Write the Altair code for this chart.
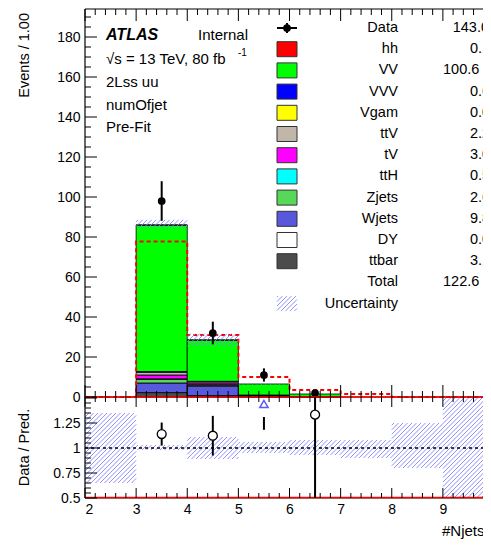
import numpy as np
import pandas as pd
import altair as alt

FONT = "Liberation Sans"

# ---------------- data ----------------
edges = [2, 3, 4, 5, 6, 7, 8, 9, 10]
procs = ["ttbar", "DY", "Wjets", "Zjets", "ttH", "tV", "ttV", "Vgam", "VVV", "VV", "hh"]
proc_colors = ["#4c4c4c", "#ffffff", "#5858dc", "#58d858", "#00ffff", "#ff00ff",
               "#c0b6aa", "#ffff00", "#0000ff", "#00ff00", "#ff0000"]
ttbar = [0, 2.2, 0.7, 0.15, 0.05, 0, 0, 0]
DY    = [0, 0, 0, 0, 0, 0, 0, 0]
Wjets = [0, 4.8, 4.7, 0.3, 0, 0, 0, 0]
Zjets = [0, 1.8, 0.6, 0.15, 0.05, 0, 0, 0]
ttH   = [0, 0.3, 0.15, 0.05, 0, 0, 0, 0]
tV    = [0, 1.9, 0.9, 0.15, 0.05, 0, 0, 0]
ttV   = [0, 1.4, 0.6, 0.15, 0.05, 0, 0, 0]
Vgam  = [0, 0, 0, 0, 0, 0, 0, 0]
VVV   = [0, 0.35, 0.2, 0.05, 0, 0, 0, 0]
VV    = [0, 73.2, 20.6, 5.5, 1.3, 0, 0, 0]
hh    = [0, 0.05, 0.05, 0, 0, 0, 0, 0]
yields = dict(ttbar=ttbar, DY=DY, Wjets=Wjets, Zjets=Zjets, ttH=ttH, tV=tV,
              ttV=ttV, Vgam=Vgam, VVV=VVV, VV=VV, hh=hh)
signal_overlay = [0, 77.7, 31.0, 10.0, 3.5, 1.5, 0, 0]
data_obs = [0, 98, 32, 11, 2, 0, 0, 0]
unc_lo = [0.65, 0.98, 0.89, 0.95, 0.93, 0.90, 0.80, 0.40]
unc_hi = [1.35, 1.03, 1.11, 1.06, 1.08, 1.08, 1.25, 1.60]

legend_names = ["Data", "hh", "VV", "VVV", "Vgam", "ttV", "tV", "ttH", "Zjets",
                "Wjets", "DY", "ttbar", "Total", "Uncertainty"]
legend_values = ["143.0 ± 12.0", "0.1 ± 0.0", "100.6 ± 3.1", "0.6 ± 0.1", "0.0 ± 0.0",
                 "2.2 ± 0.2", "3.0 ± 0.3", "0.5 ± 0.1", "2.6 ± 0.5", "9.8 ± 1.0",
                 "0.0 ± 0.0", "3.1 ± 0.4", "122.6 ± 3.5", ""]
top_ticks = list(range(0, 181, 20))
ratio_ticks = [0.5, 0.75, 1, 1.25]
x_labels = list(range(2, 11))
ann_lines = ["2Lss uu", "numOfjet", "Pre-Fit"]

# ---------------- layout ----------------
SX = 51.125                      # px per x unit
W = 398                          # laid-out plot width; marks run on to x = 10
HT, HB = 388, 101                # top / ratio panel heights (px)
H = HT + HB
LEFT, TOP = 85, 9                # page position of the plot area
XD = (2, 2 + W / SX)
Y1D = (0, 194)
Y2D = (0.5, 1.51)
SY1 = HT / (Y1D[1] - Y1D[0])
SY2 = HB / (Y2D[1] - Y2D[0])
HATCH = "#8585ff"


def ut(v):          # top-panel value -> combined vertical coordinate
    return HB + (v - Y1D[0]) * SY1


def ub(r):          # ratio value -> combined vertical coordinate
    return (r - Y2D[0]) * SY2


def px2x(px):
    return XD[0] + (px - LEFT) / SX


def py2u(py):
    return H - (py - TOP)


def hatch(x0, x1, u0, u1, step=4.5):
    X0, X1 = (x0 - XD[0]) * SX, (x1 - XD[0]) * SX
    segs = []
    for k in range(int(np.ceil((u0 - X1) / step)), int(np.floor((u1 - X0) / step)) + 1):
        c = k * step
        xa, xb = max(X0, u0 - c), min(X1, u1 - c)
        if xb - xa > 0.3:
            segs.append(dict(x=XD[0] + xa / SX, x2=XD[0] + xb / SX, y=xa + c, y2=xb + c))
    return segs


xs = alt.Scale(domain=list(XD), nice=False, zero=False)
ys = alt.Scale(domain=[0, H], nice=False, zero=False)
color_scale = alt.Scale(domain=procs, range=proc_colors)

yvals = [ut(v) for v in top_ticks] + [ub(r) for r in ratio_ticks]
yaxis = alt.Axis(values=yvals, ticks=False, domain=False, grid=False, labelFontSize=14,
                 labelPadding=5, title="",
                 labelExpr=(f"datum.value >= {HB} ? '' + round((datum.value - {HB}) / {SY1}) "
                            f": '' + ({Y2D[0]} + datum.value / {SY2})"))
xaxis = alt.Axis(values=[v for v in x_labels if v <= XD[1]], ticks=False, domain=False,
                 grid=False, labelFontSize=14, labelPadding=4, title="#Njets",
                 titleFontSize=15, titleAnchor="end", titleAlign="right",
                 titleBaseline="middle", titleX=W + 1, titleY=32)


def X(f):
    return alt.X(f, type="quantitative", scale=xs, axis=xaxis)


def Y(f):
    return alt.Y(f, type="quantitative", scale=ys, axis=yaxis)


def rules(df, **kw):
    return alt.Chart(pd.DataFrame(df)).mark_rule(**kw).encode(
        x=X("x"), x2="x2", y=Y("y"), y2="y2")


# ---------------- top panel ----------------
cum = np.zeros(len(edges) - 1)
rows = []
for p in procs:
    v = np.array(yields[p], dtype=float)
    for i in range(len(v)):
        if v[i] > 0:
            rows.append(dict(proc=p, lo=edges[i], hi=edges[i + 1],
                             y0=ut(cum[i]), y1=ut(cum[i] + v[i])))
    cum = cum + v
total = cum

stack = alt.Chart(pd.DataFrame(rows)).mark_rect(stroke="black", strokeWidth=0.8).encode(
    x=X("lo"), x2="hi", y=Y("y0"), y2="y1",
    fill=alt.Fill("proc:N", scale=color_scale, legend=None))

df_sig = pd.DataFrame(dict(x=edges, y=[ut(s) for s in signal_overlay + [signal_overlay[-1]]]))
sig = alt.Chart(df_sig).mark_line(interpolate="step-after", color="#ff0000",
                                  strokeDash=[4, 3], strokeWidth=2).encode(
    x=X("x"), y=Y("y"))

hsegs = []
for i in range(len(total)):
    if total[i] > 0:
        hsegs += hatch(edges[i], edges[i + 1], ut(total[i] * unc_lo[i]), ut(total[i] * unc_hi[i]))
hatch1 = rules(hsegs, color=HATCH, strokeWidth=0.9)

drows = []
for i, n in enumerate(data_obs):
    if n > 0:
        c = 0.5 * (edges[i] + edges[i + 1])
        drows.append(dict(x=c, y=ut(n), lo=ut(max(n - np.sqrt(n), 0)), hi=ut(n + np.sqrt(n))))
df_data = pd.DataFrame(drows)
derr = alt.Chart(df_data).mark_rule(color="black", strokeWidth=2).encode(
    x=X("x"), y=Y("lo"), y2="hi")
dpts = alt.Chart(df_data).mark_circle(color="black", size=60, opacity=1).encode(
    x=X("x"), y=Y("y"))

# ---------------- ratio panel ----------------
hsegs2 = []
for i in range(len(edges) - 1):
    hsegs2 += hatch(edges[i], edges[i + 1], max(ub(unc_lo[i]), 0), min(ub(unc_hi[i]), HB))
hatch2 = rules(hsegs2, color=HATCH, strokeWidth=0.9)

one = rules([dict(x=edges[0], x2=edges[-1], y=ub(1.0), y2=ub(1.0))], color="black",
            strokeWidth=1.5, strokeDash=[3, 3])
frame = rules([dict(x=edges[0], x2=edges[-1], y=HB, y2=HB),
               dict(x=edges[0], x2=edges[-1], y=H, y2=H),
               dict(x=edges[0], x2=edges[-1], y=0, y2=0),
               dict(x=edges[0], x2=edges[0], y=0, y2=H)], color="black", strokeWidth=1.2)
reds = rules([dict(x=edges[0], x2=edges[-1], y=ut(0), y2=ut(0)),
              dict(x=edges[0], x2=edges[-1], y=ub(Y2D[0]) + 0.6, y2=ub(Y2D[0]) + 0.6)],
             color="#ff0000", strokeWidth=1.5)

rrows, arows = [], []
for i, n in enumerate(data_obs):
    if n > 0 and total[i] > 0:
        c = 0.5 * (edges[i] + edges[i + 1])
        r, e = n / total[i], np.sqrt(n) / total[i]
        if r < Y2D[1]:
            rrows.append(dict(x=c, r=ub(r), lo=max(ub(r - e), 0), hi=min(ub(r + e), HB)))
        else:
            arows.append(dict(x=c, ya=ub(Y2D[1] - 0.07), lo=ub(r - e), hi=ub(Y2D[1] - 0.2)))
df_r = pd.DataFrame(rrows)
df_a = pd.DataFrame(arows)
rerr = alt.Chart(df_r).mark_rule(color="black", strokeWidth=2).encode(
    x=X("x"), y=Y("lo"), y2="hi")
rpts = alt.Chart(df_r).mark_point(shape="circle", filled=True, fill="white", stroke="black",
                                  strokeWidth=1.3, size=80, opacity=1).encode(
    x=X("x"), y=Y("r"))
aerr = alt.Chart(df_a).mark_rule(color="black", strokeWidth=2).encode(
    x=X("x"), y=Y("lo"), y2="hi")
apts = alt.Chart(df_a).mark_point(shape="triangle-up", filled=True, fill="white",
                                  stroke="#5a5aff", strokeWidth=1.5, size=70, opacity=1).encode(
    x=X("x"), y=Y("ya"))

# x labels lying past the laid-out width (the "10" at the page edge)
df_xl = pd.DataFrame([dict(t=str(v), x=v, y=-4) for v in x_labels if v > XD[1]])
xl_extra = alt.Chart(df_xl).mark_text(align="center", baseline="top", fontSize=14, font=FONT,
                                      color="black").encode(x=X("x"), y=Y("y"), text="t:N")

# ---------------- tick marks (inside the frames) ----------------
tk = []
for v in np.arange(Y1D[0], Y1D[1] + 0.001, 5):
    L = 12 if int(round(v)) % 20 == 0 else 6
    tk.append(dict(x=edges[0], x2=edges[0] + L / SX, y=ut(v), y2=ut(v)))
for v in np.round(np.arange(Y2D[0], Y2D[1] + 0.001, 0.05), 3):
    L = 12 if abs(v * 4 - round(v * 4)) < 1e-6 else 6
    tk.append(dict(x=edges[0], x2=edges[0] + L / SX, y=ub(v), y2=ub(v)))
for v in np.round(np.arange(edges[0], edges[-1] + 0.001, 0.2), 3):
    major = abs(v - round(v)) < 1e-6
    L1, L2 = (12, 10) if major else (6, 5)
    tk.append(dict(x=v, x2=v, y=H, y2=H - L1))
    tk.append(dict(x=v, x2=v, y=HB, y2=HB + L1))
    tk.append(dict(x=v, x2=v, y=HB, y2=HB - L2))
    tk.append(dict(x=v, x2=v, y=0, y2=L2))
ticks = rules(tk, color="black", strokeWidth=1)

# ---------------- legend (top-right) ----------------
row_py = [28 + 21.2 * i for i in range(len(legend_names))]
lrows, brows = [], []
for i, (nm, val) in enumerate(zip(legend_names, legend_values)):
    lrows.append(dict(name=nm, val=val, xl=px2x(398),
                      xv=px2x(443 if len(val.split(" ")[0]) > 3 else 470), y=py2u(row_py[i])))
    if nm in procs:
        brows.append(dict(proc=nm, x=px2x(277), x2=px2x(297),
                          y=py2u(row_py[i] + 7.5), y2=py2u(row_py[i] - 7.5)))
df_leg = pd.DataFrame(lrows)
df_leg.loc[0, "xv"] = px2x(452.7)
leg_lab = alt.Chart(df_leg).mark_text(align="right", baseline="middle", fontSize=14.5,
                                      font=FONT, color="black").encode(
    x=X("xl"), y=Y("y"), text="name:N")
leg_val = alt.Chart(df_leg).mark_text(align="left", baseline="middle", fontSize=14.5,
                                      font=FONT, color="black").encode(
    x=X("xv"), y=Y("y"), text="val:N")
leg_box = alt.Chart(pd.DataFrame(brows)).mark_rect(stroke="#333333", strokeWidth=1).encode(
    x=X("x"), x2="x2", y=Y("y"), y2="y2",
    fill=alt.Fill("proc:N", scale=color_scale, legend=None))
u0 = py2u(row_py[0])
leg_mk = rules([dict(x=px2x(277), x2=px2x(297), y=u0, y2=u0),
                dict(x=px2x(287), x2=px2x(287), y=u0 - 5, y2=u0 + 5)], color="black", strokeWidth=2)
leg_mp = alt.Chart(pd.DataFrame([dict(x=px2x(287), y=u0)])).mark_circle(
    color="black", size=60, opacity=1).encode(x=X("x"), y=Y("y"))
leg_h = rules(hatch(px2x(277), px2x(297), py2u(row_py[-1] + 7.5), py2u(row_py[-1] - 7.5)),
              color=HATCH, strokeWidth=0.9)

# ---------------- annotations ----------------
atlas = alt.Chart(pd.DataFrame([dict(t="ATLAS", x=px2x(106), y=py2u(35))])).mark_text(
    align="left", baseline="middle", fontSize=16, fontWeight="bold", fontStyle="italic",
    font=FONT, color="black").encode(x=X("x"), y=Y("y"), text="t:N")
df_ann = pd.DataFrame([dict(t="Internal", x=px2x(198), y=py2u(35)),
                       dict(t="√s = 13 TeV, 80 fb", x=px2x(106), y=py2u(59))] +
                      [dict(t=s, x=px2x(106), y=py2u(82 + 22.5 * k)) for k, s in enumerate(ann_lines)])
ann = alt.Chart(df_ann).mark_text(align="left", baseline="middle", fontSize=15, font=FONT,
                                  color="black").encode(x=X("x"), y=Y("y"), text="t:N")
sup = alt.Chart(pd.DataFrame([dict(t="-1", x=px2x(238), y=py2u(53))])).mark_text(
    align="left", baseline="middle", fontSize=10, font=FONT, color="black").encode(
    x=X("x"), y=Y("y"), text="t:N")

ytitle1 = alt.Chart(pd.DataFrame([dict(t="Events / 1.00")])).mark_text(
    angle=270, align="right", baseline="middle", fontSize=14.5, font=FONT, color="black").encode(
    x=alt.value(25 - LEFT), y=alt.value(4), text="t:N")
ytitle2 = alt.Chart(pd.DataFrame([dict(t="Data / Pred.")])).mark_text(
    angle=270, align="center", baseline="middle", fontSize=14.5, font=FONT, color="black").encode(
    x=alt.value(25 - LEFT), y=alt.value(HT + HB / 2), text="t:N")

chart = alt.layer(
    stack, sig, hatch1, derr, dpts,
    hatch2, one, frame, reds, rerr, rpts, aerr, apts,
    ticks, xl_extra, leg_box, leg_h, leg_mk, leg_mp, leg_lab, leg_val,
    atlas, ann, sup, ytitle1, ytitle2,
).properties(
    width=W, height=H,
    padding={"left": LEFT - 8, "top": TOP - 8, "right": 0, "bottom": 41},
    autosize=alt.AutoSizeParams(type="none"),
).configure_view(stroke="transparent").configure_axis(
    labelFont=FONT, titleFont=FONT, labelColor="black", titleColor="black",
    titleFontWeight="normal")

chart.save("out.html", embed_options={"renderer": "svg", "actions": False})
